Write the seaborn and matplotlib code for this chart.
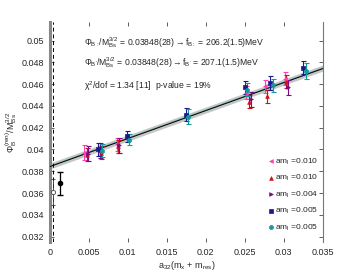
import numpy as np
import pandas as pd
import matplotlib
matplotlib.use("Agg")
import matplotlib.pyplot as plt
import seaborn as sns

# ---- data ----
labels = ["am$_\\mathrm{l}$ =0.010", "am$_\\mathrm{l}$ =0.010", "am$_\\mathrm{l}$ =0.004",
          "am$_\\mathrm{l}$ =0.005", "am$_\\mathrm{l}$ =0.005"]
colors = ["#ff3fb4", "#d0101a", "#7a0a80", "#1a1a90", "#119a9a"]
markers = ["<", "^", ">", "s", "P"]

pink_x = [0.0044, 0.0086, 0.0252, 0.0276, 0.0301]
pink_y = [0.0397, 0.0405, 0.0452, 0.0458, 0.0465]
pink_e = [0.0007, 0.0006, 0.0006, 0.0006, 0.0006]

red_x = [0.0047, 0.0065, 0.0087, 0.0255, 0.0278, 0.0303]
red_y = [0.0395, 0.0397, 0.0403, 0.0444, 0.0449, 0.0462]
red_e = [0.0006, 0.0006, 0.0006, 0.0006, 0.0006, 0.0006]

purple_x = [0.0049, 0.0064, 0.0089, 0.0258, 0.0305]
purple_y = [0.0396, 0.0399, 0.0404, 0.0446, 0.0457]
purple_e = [0.0007, 0.0007, 0.0007, 0.0007, 0.0007]

navy_x = [0.0062, 0.0099, 0.0175, 0.0250, 0.0282, 0.0324]
navy_y = [0.0400, 0.0412, 0.0432, 0.0457, 0.0461, 0.0475]
navy_e = [0.0006, 0.0005, 0.0006, 0.0006, 0.0006, 0.0006]

teal_x = [0.0067, 0.0101, 0.0177, 0.0253, 0.0286, 0.0328]
teal_y = [0.0399, 0.0409, 0.0430, 0.0455, 0.0459, 0.0472]
teal_e = [0.0006, 0.0005, 0.0007, 0.0006, 0.0006, 0.0007]

series = [(pink_x, pink_y, pink_e), (red_x, red_y, red_e), (purple_x, purple_y, purple_e),
          (navy_x, navy_y, navy_e), (teal_x, teal_y, teal_e)]

# extrapolated / physical points
phys_x = [0.0013]
phys_y = [0.03688]
phys_e = [0.00105]
open_x = [0.00045]
open_y = [0.0361]
open_e = [0.00118]

# fit
fit_intercept = 0.03848
fit_slope = 0.257
fit_err = 0.00028
fit_x = [0.0, 0.035]

dash_x = 0.00045

xticks = [0, 0.005, 0.01, 0.015, 0.02, 0.025, 0.03, 0.035]
xticklabels = ["0", "0.005", "0.01", "0.015", "0.02", "0.025", "0.03", "0.035"]
yticks = [0.032, 0.034, 0.036, 0.038, 0.04, 0.042, 0.044, 0.046, 0.048, 0.05]
yticklabels = ["0.032", "0.034", "0.036", "0.038", "0.04", "0.042", "0.044", "0.046", "0.048", "0.05"]

# ---- figure ----
sns.set_theme(style="white")
plt.rcParams["font.family"] = ["Liberation Sans", "DejaVu Sans"]
plt.rcParams["mathtext.fontset"] = "custom"
plt.rcParams["mathtext.rm"] = "Liberation Sans"
plt.rcParams["mathtext.it"] = "Liberation Sans"

fig = plt.figure(figsize=(3.37, 2.72), dpi=100)
ax = fig.add_axes([0.148, 0.110, 0.810, 0.809])

# fit band and line
fx = np.linspace(fit_x[0], fit_x[1], 50)
fy = fit_intercept + fit_slope * fx
ax.fill_between(fx, fy - fit_err, fy + fit_err, color="#b8b8b8", alpha=0.8, lw=0, zorder=1)
fit_df = pd.DataFrame({"x": fx, "y": fy})
sns.lineplot(data=fit_df, x="x", y="y", ax=ax, color="#4aa6a6", lw=0.6, zorder=2)
ax.plot(fx, fy - 0.00005, color="black", lw=0.7, zorder=3)

# dashed line
ax.axvline(dash_x, color="black", ls=(0, (4, 3)), lw=0.7, zorder=2)

# series
for (xs, ys, es), c, m, lab in zip(series, colors, markers, labels):
    ax.errorbar(xs, ys, yerr=es, fmt="none", ecolor=c, elinewidth=0.8, capsize=1.8,
                capthick=0.8, zorder=4)
    df = pd.DataFrame({"x": xs, "y": ys})
    sns.scatterplot(data=df, x="x", y="y", ax=ax, marker=m, color=c, s=7,
                    edgecolor=c, linewidth=0.5, zorder=5, label=lab)

# physical points
ax.errorbar(open_x, open_y, yerr=open_e, fmt="o", mfc="white", mec="#444444", ms=3.0,
            mew=0.6, ecolor="#333333", elinewidth=0.6, capsize=1.5, zorder=6)
ax.errorbar(phys_x, phys_y, yerr=phys_e, fmt="o", color="black", ms=3.0,
            elinewidth=0.9, capsize=2, zorder=6)

ax.set_xlim(0, 0.035)
ax.set_ylim(0.0315, 0.0517)
ax.set_xticks(xticks)
ax.set_xticklabels(xticklabels, fontsize=6.5)
ax.set_yticks(yticks)
ax.set_yticklabels(yticklabels, fontsize=6.5)
ax.tick_params(axis="both", direction="in", length=3, width=0.6, color="#444444",
               top=True, right=True, bottom=True, left=True, pad=4)

for side in ["top", "bottom"]:
    ax.spines[side].set_visible(False)
ax.spines["left"].set_color("#888888")
ax.spines["left"].set_linewidth(2.2)
ax.spines["right"].set_color("#777777")
ax.spines["right"].set_linewidth(0.8)

ax.set_xlabel(r"a$_{32}$(m$_\mathrm{x}$ + m$_\mathrm{res}$)", fontsize=6.5, labelpad=2)
ax.set_ylabel(r"$\Phi_\mathrm{B}^\mathrm{(ren)}$/M$_\mathrm{Bs}^{3/2}$", fontsize=6.5, labelpad=2)

# annotations
tkw = dict(fontsize=6.2, transform=ax.transAxes, ha="left", va="center", zorder=7,
           bbox=dict(facecolor="white", edgecolor="none", pad=0.5))
ax.text(0.125, 0.905, r"$\Phi_\mathrm{B:}$/M$_\mathrm{Bs}^{3/2}$ = 0.03848(28)$\rightarrow$f$_\mathrm{B:}$ = 206.2(1.5)MeV", **tkw)
ax.text(0.125, 0.815, r"$\Phi_\mathrm{B'}$/M$_\mathrm{Bs}^{3/2}$ = 0.03848(28)$\rightarrow$f$_\mathrm{B'}$ = 207.1(1.5)MeV", **tkw)
ax.text(0.125, 0.710, r"$\chi^2$/dof = 1.34 [11]  p-value = 19%", **tkw)

leg = ax.legend(loc="lower right", frameon=False, fontsize=6.0, handletextpad=0.1,
                handlelength=0.8, labelspacing=0.75, borderaxespad=0.2,
                bbox_to_anchor=(1.0, 0.02))

fig.savefig("out.png", dpi=100)
